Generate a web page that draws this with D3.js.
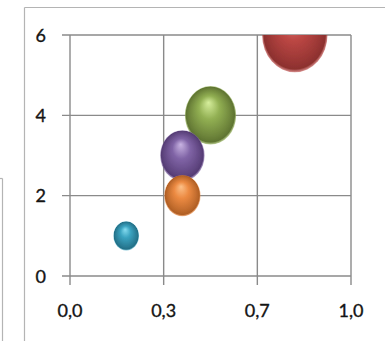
<!DOCTYPE html>
<html>
<head>
<meta charset="utf-8">
<script src="https://cdn.jsdelivr.net/npm/d3@7"></script>
<style>
  html, body { margin: 0; padding: 0; background: #fff; }
  svg { display: block; }
  text { font-family: Lato, "Open Sans", sans-serif; fill: #141414; stroke: #141414; stroke-width: 0.35px; }
</style>
</head>
<body>
<svg id="chart" width="385" height="341"></svg>
<script>
// Bubble series
const xValues = [0.2, 0.4, 0.4, 0.5, 0.8];
const yValues = [1, 2, 3, 4, 6];
const bubbleSizes = [1, 2, 3, 4, 6.5];
const bubbleColors = [
  { light: "#86dcf0", base: "#3aa3c0", dark: "#236f86" },
  { light: "#fcc088", base: "#ec8a42", dark: "#b05f24" },
  { light: "#c8b3e2", base: "#8064a6", dark: "#553c74" },
  { light: "#d6ee9c", base: "#92b053", dark: "#5f7432" },
  { light: "#de7f7b", base: "#bc4744", dark: "#8c302e" }
];

// Axis ticks
const xTicks = [0, 1 / 3, 2 / 3, 1];
const yTicks = [0, 2, 4, 6];

const svg = d3.select("#chart");
const plot = { left: 70, right: 351, top: 35, bottom: 276 };

const x = d3.scaleLinear().domain([0, 1]).range([plot.left, plot.right]);
const y = d3.scaleLinear().domain([0, 6]).range([plot.bottom, plot.top]);
const r = d3.scaleSqrt().domain([0, d3.max(bubbleSizes)]).range([0, 32.7]);
const fmt = d3.formatLocale({ decimal: ",", thousands: ".", grouping: [3], currency: ["", ""] }).format(".1f");

const defs = svg.append("defs");
defs.append("clipPath").attr("id", "plotClip")
  .append("rect")
  .attr("x", plot.left).attr("y", plot.top)
  .attr("width", plot.right - plot.left).attr("height", plot.bottom - plot.top);
defs.append("filter").attr("id", "soft")
  .append("feGaussianBlur").attr("stdDeviation", 0.7);

bubbleColors.forEach((c, i) => {
  const g = defs.append("radialGradient")
    .attr("id", "ball" + i)
    .attr("cx", 0.5).attr("cy", 0.5).attr("r", 0.5)
    .attr("fx", 0.46).attr("fy", 0.28);
  g.append("stop").attr("offset", 0).attr("stop-color", c.light);
  g.append("stop").attr("offset", 0.4).attr("stop-color", c.base);
  g.append("stop").attr("offset", 0.82).attr("stop-color", d3.interpolateRgb(c.base, c.dark)(0.75));
  g.append("stop").attr("offset", 0.94).attr("stop-color", c.dark);
  g.append("stop").attr("offset", 1).attr("stop-color", c.base).attr("stop-opacity", 0.6);
});

// Outer chart frame and neighbouring box edge
const frame = "#b4b4b4";
svg.append("line").attr("x1", 24.5).attr("x2", 24.5).attr("y1", 7.5).attr("y2", 341)
  .attr("stroke", frame).attr("stroke-width", 1.2);
svg.append("line").attr("x1", 24.5).attr("x2", 385).attr("y1", 7.5).attr("y2", 7.5)
  .attr("stroke", frame).attr("stroke-width", 1.2);
svg.append("line").attr("x1", 2.5).attr("x2", 2.5).attr("y1", 178.5).attr("y2", 341)
  .attr("stroke", frame).attr("stroke-width", 1.2);
svg.append("line").attr("x1", 0).attr("x2", 2.5).attr("y1", 178.5).attr("y2", 178.5)
  .attr("stroke", frame).attr("stroke-width", 1.2);

// Gridlines
const gridColor = "#8a8a8a";
svg.append("g").selectAll("line").data(yTicks).join("line")
  .attr("x1", plot.left - 8).attr("x2", plot.right)
  .attr("y1", d => y(d)).attr("y2", d => y(d))
  .attr("stroke", gridColor).attr("stroke-width", 1.4);
svg.append("g").selectAll("line").data(xTicks).join("line")
  .attr("x1", d => x(d)).attr("x2", d => x(d))
  .attr("y1", plot.top).attr("y2", plot.bottom + 9)
  .attr("stroke", gridColor).attr("stroke-width", 1.4);

// Bubbles, largest first so smaller ones sit on top
const bubbles = xValues.map((v, i) => ({ x: v, y: yValues[i], s: bubbleSizes[i], i }))
  .sort((a, b) => b.s - a.s);
svg.append("g").attr("clip-path", "url(#plotClip)")
  .selectAll("ellipse").data(bubbles).join("ellipse")
  .attr("cx", d => x(d.x))
  .attr("cy", d => y(d.y))
  .attr("rx", d => r(d.s))
  .attr("ry", d => r(d.s) * 1.14)
  .attr("fill", d => `url(#ball${d.i})`)
  .attr("filter", "url(#soft)");

// Tick labels
svg.append("g").selectAll("text").data(yTicks).join("text")
  .attr("x", 46).attr("y", d => y(d) + 6.5)
  .attr("text-anchor", "end").attr("font-size", 18)
  .text(d => d);
svg.append("g").selectAll("text").data(xTicks).join("text")
  .attr("x", d => x(d)).attr("y", 317)
  .attr("text-anchor", "middle").attr("font-size", 18)
  .text(d => fmt(d));
</script>
</body>
</html>
